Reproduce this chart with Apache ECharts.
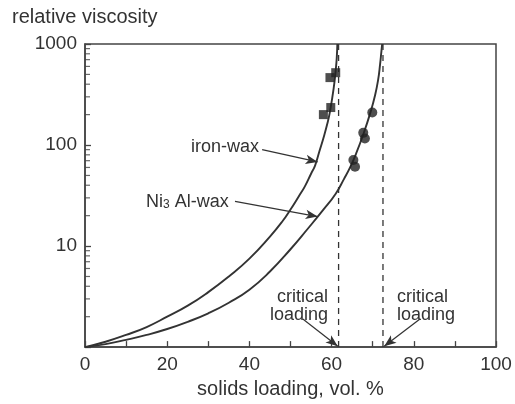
<!DOCTYPE html>
<html>
<head>
<meta charset="utf-8">
<script src="https://cdn.jsdelivr.net/npm/echarts@6/dist/echarts.min.js"></script>
<style>html,body{margin:0;padding:0;background:#fff}#c{width:515px;height:404px}</style>
</head>
<body>
<div id="c"></div>
<script>
// ---- data ----
const ironX = [0, 5, 10, 15, 20, 25, 30, 35, 40, 45, 48, 50, 52, 53.5, 55, 56, 57, 58, 59, 59.6, 60.5, 61, 61.25, 61.4];
const ironY = [1, 1.13, 1.32, 1.58, 2.0, 2.57, 3.5, 5.0, 7.5, 12.4, 17.5, 23, 31, 39, 52, 63, 86, 117, 165, 214, 363, 550, 724, 1000];
const niX = [0, 5, 10, 15, 20, 25, 30, 35, 40, 45, 50, 54, 58, 61, 63, 64.5, 66, 68, 69.5, 70.5, 71.3, 71.8, 72.1, 72.3];
const niY = [1, 1.07, 1.18, 1.32, 1.51, 1.78, 2.16, 2.75, 3.7, 5.6, 9.3, 14.5, 22.9, 33, 46, 60, 83, 138, 214, 302, 437, 631, 832, 1000];
const ironPtsX = [58, 59.8, 59.6, 61];
const ironPtsY = [200, 235, 465, 520];
const niPtsX = [65.3, 65.7, 67.7, 68.1, 69.9];
const niPtsY = [71, 61, 132, 116, 210];
const ironCritical = 61.7;
const niCritical = 72.5;
const yRange = [1, 1000];
const xRange = [0, 100];
const yMinorTicks = [2, 3, 4, 5, 6, 7, 8, 9, 20, 30, 40, 50, 60, 70, 80, 90, 200, 300, 400, 500, 600, 700, 800, 900];
// annotation arrows (data coordinates)
const ironArrow = [[43.1, 90], [56.6, 68]];
const niArrow = [[36.5, 27.7], [56.6, 19.6]];
const critArrowL = [[53.0, 1.9], [61.5, 1.02]];
const critArrowR = [[81.5, 1.9], [72.8, 1.02]];

const zip = (a, b) => a.map((v, i) => [v, b[i]]);
const INK = '#333';
const FONT = '"Liberation Sans", Arial, Helvetica, sans-serif';

const arrow = (a) => [{coord: a[0], symbol: 'none'}, {coord: a[1], symbol: 'arrow', symbolSize: [7, 12]}];

const chart = echarts.init(document.getElementById('c'), null, {renderer: 'canvas'});
chart.setOption({
  animation: false,
  backgroundColor: '#fff',
  textStyle: {fontFamily: FONT, color: INK},
  grid: {left: 85, right: 19, top: 44, bottom: 50, show: true, borderColor: '#444', borderWidth: 1.5, backgroundColor: 'transparent'},
  xAxis: {
    type: 'value', min: xRange[0], max: xRange[1], interval: 10,
    name: 'solids loading, vol. %', nameLocation: 'middle', nameGap: 30,
    nameTextStyle: {fontFamily: FONT, fontSize: 20, color: INK},
    axisLine: {lineStyle: {color: '#444', width: 1.5}},
    axisTick: {inside: true, length: 6, lineStyle: {color: '#444', width: 1.3}},
    axisLabel: {fontFamily: FONT, fontSize: 19, color: INK, margin: 8,
      formatter: v => (v % 20 === 0 ? String(v) : '')},
    splitLine: {show: false}
  },
  yAxis: {
    type: 'log', logBase: 10, min: yRange[0], max: yRange[1],
    axisLine: {show: true, lineStyle: {color: '#444', width: 1.5}},
    axisTick: {inside: true, length: 6, lineStyle: {color: '#444', width: 1.3}},
    axisLabel: {fontFamily: FONT, fontSize: 19, color: INK, margin: 8,
      formatter: v => (Math.abs(v - 1) < 1e-9 ? '' : String(Math.round(v)))},
    splitLine: {show: false}
  },
  series: [
    {type: 'line', name: 'iron-wax', data: zip(ironX, ironY), showSymbol: false, smooth: 0.5,
      lineStyle: {color: INK, width: 1.9}, z: 3,
      markLine: {silent: true, label: {show: false}, lineStyle: {color: INK, width: 1.2, type: 'solid'},
        data: [arrow(ironArrow), arrow(niArrow), arrow(critArrowL), arrow(critArrowR)]}},
    {type: 'line', name: 'Ni3Al-wax', data: zip(niX, niY), showSymbol: false, smooth: 0.5,
      lineStyle: {color: INK, width: 1.9}, z: 3},
    {type: 'line', data: [[ironCritical, yRange[0]], [ironCritical, yRange[1]]], showSymbol: false,
      lineStyle: {color: INK, width: 1.3, type: [6, 5]}},
    {type: 'line', data: [[niCritical, yRange[0]], [niCritical, yRange[1]]], showSymbol: false,
      lineStyle: {color: INK, width: 1.3, type: [6, 5]}},
    {type: 'scatter', data: zip(ironPtsX, ironPtsY), symbol: 'rect', symbolSize: 9, itemStyle: {color: '#222'}, z: 4},
    {type: 'scatter', data: zip(niPtsX, niPtsY), symbol: 'circle', symbolSize: 10, itemStyle: {color: '#222'}, z: 4},
    {type: 'scatter', data: yMinorTicks.map(v => [xRange[0], v]), symbol: 'rect', symbolSize: [5, 1.2],
      symbolOffset: [2.5, 0], itemStyle: {color: '#444'}, silent: true, clip: false, z: 5}
  ],
  graphic: [
    {type: 'text', left: 12, top: 7, style: {text: 'relative viscosity', font: '20px ' + FONT, fill: INK}},
    {type: 'text', left: 191, top: 138, style: {text: 'iron-wax', font: '18px ' + FONT, fill: INK}},
    {type: 'text', left: 146, top: 193, style: {
      text: '{a|Ni}{s|3}{a| Al-wax}', font: '18px ' + FONT, fill: INK,
      rich: {a: {fontSize: 18, fontFamily: FONT, fill: INK, verticalAlign: 'bottom'},
             s: {fontSize: 12, fontFamily: FONT, fill: INK, padding: [6, 0, 0, 0], verticalAlign: 'bottom'}}}},
    {type: 'text', x: 328, y: 288, style: {text: 'critical\nloading', font: '18px ' + FONT, fill: INK, align: 'right', lineHeight: 18}},
    {type: 'text', x: 397, y: 288, style: {text: 'critical\nloading', font: '18px ' + FONT, fill: INK, align: 'left', lineHeight: 18}}
  ]
});
</script>
</body>
</html>
